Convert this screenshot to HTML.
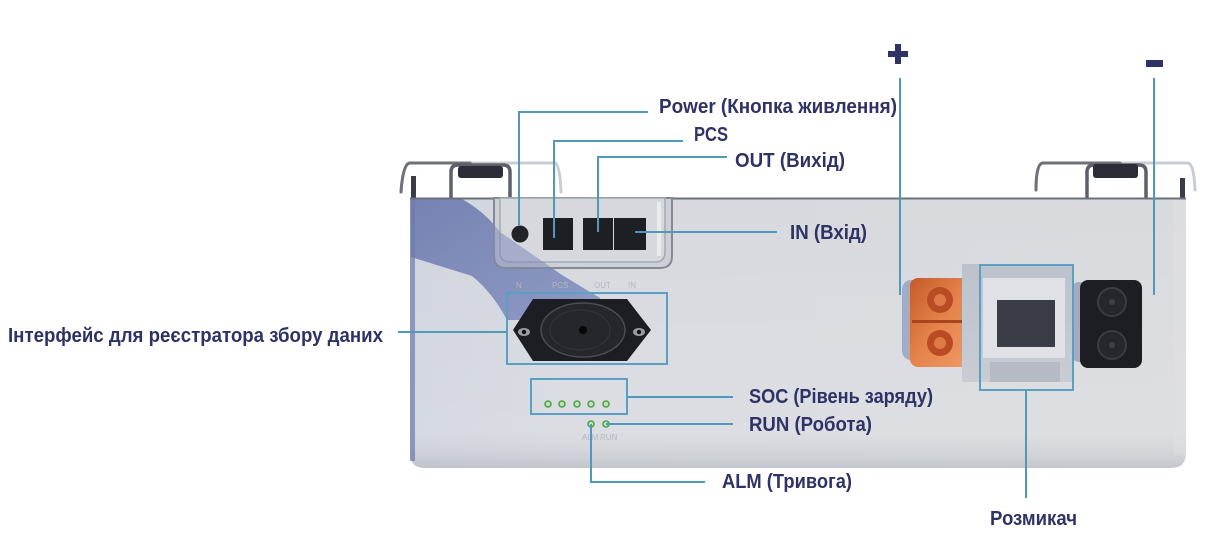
<!DOCTYPE html>
<html><head><meta charset="utf-8"><style>
html,body{margin:0;padding:0;background:#fff;}
svg{display:block;}
.t{font-family:"Liberation Sans","Noto Sans CJK SC",sans-serif;font-weight:bold;fill:#2f3264;font-size:20px;}
.ln{stroke:#4f9abb;stroke-width:2;fill:none;}
.bx{stroke:#5aa0c2;stroke-width:2;fill:none;}
.led{fill:#c4e2bb;stroke:#4ea64a;stroke-width:1.6;}
</style></head><body>
<svg width="1210" height="544" viewBox="0 0 1210 544" xmlns="http://www.w3.org/2000/svg">
<defs>
<linearGradient id="bodyG" x1="0" y1="0" x2="1" y2="0">
<stop offset="0" stop-color="#d0d4de"/>
<stop offset="0.25" stop-color="#d7d9df"/>
<stop offset="1" stop-color="#d9dade"/>
</linearGradient>
<linearGradient id="bodyV" x1="0" y1="0" x2="0" y2="1">
<stop offset="0" stop-color="#ffffff" stop-opacity="0"/>
<stop offset="0.85" stop-color="#ffffff" stop-opacity="0.12"/>
<stop offset="1" stop-color="#9da1aa" stop-opacity="0.35"/>
</linearGradient>
<linearGradient id="bandG" x1="0" y1="0" x2="1" y2="1">
<stop offset="0" stop-color="#7682b2"/>
<stop offset="1" stop-color="#8f9ac4"/>
</linearGradient>
<linearGradient id="orG" x1="0" y1="0" x2="1" y2="1">
<stop offset="0" stop-color="#c45a2a"/>
<stop offset="0.5" stop-color="#e5834b"/>
<stop offset="1" stop-color="#f09a66"/>
</linearGradient>
<linearGradient id="brG" x1="0" y1="0" x2="0" y2="1">
<stop offset="0" stop-color="#bcc1cb"/>
<stop offset="1" stop-color="#c9ccd3"/>
</linearGradient>
<clipPath id="panelClip">
<path d="M494,198 L672,198 L672,256 Q672,268 660,268 L506,268 Q494,268 494,256 Z"/>
</clipPath>
</defs>

<!-- handles -->
<g fill="none" stroke-linecap="round">
<path d="M401,192 Q403,163 410,163 L555,163 Q560,165 561,192" stroke="#c9ccd2" stroke-width="3"/>
<path d="M401,192 Q403,163 410,163 L470,163" stroke="#6e717a" stroke-width="3"/>
<path d="M451,198 L451,172 Q451,165 458,165 L503,165 Q510,165 510,172 L510,198" stroke="#5d6069" stroke-width="3.5"/>
<path d="M1036,190 Q1036,163 1043,163 L1188,163 Q1194,164 1195,190" stroke="#c9ccd2" stroke-width="3"/>
<path d="M1036,190 Q1036,163 1043,163 L1120,163" stroke="#6e717a" stroke-width="3"/>
<path d="M1087,198 L1087,172 Q1087,165 1094,165 L1139,165 Q1146,165 1146,172 L1146,198" stroke="#5d6069" stroke-width="3.5"/>
</g>
<rect x="458" y="166" width="45" height="12" rx="3" fill="#2a2d36"/>
<rect x="1093" y="164" width="45" height="14" rx="3" fill="#2a2d36"/>
<rect x="411" y="176" width="5" height="22" fill="#3a3d46"/>
<rect x="1180" y="178" width="5" height="20" fill="#3a3d46"/>

<!-- body -->
<path d="M410,198 L1186,198 L1186,453 Q1186,468 1171,468 L425,468 Q410,468 410,453 Z" fill="url(#bodyG)"/>
<path d="M410,198 L1186,198 L1186,453 Q1186,468 1171,468 L425,468 Q410,468 410,453 Z" fill="url(#bodyV)"/>
<rect x="1174" y="200" width="12" height="255" fill="#e0e1e5" opacity="0.4"/>
<!-- shadow band -->
<path id="band" d="M411,199 L462,199 Q485,212 500,232 L562,275 L600,298 L600,320 L507,320 Q492,292 472,276 L411,257 Z" fill="url(#bandG)"/>
<rect x="410" y="199" width="5" height="262" fill="#6f7aa8" opacity="0.7"/>
<line x1="410" y1="198.5" x2="1186" y2="198.5" stroke="#6d7079" stroke-width="2"/>

<!-- control panel -->
<path d="M494,198 L672,198 L672,256 Q672,268 660,268 L506,268 Q494,268 494,256 Z" fill="#cdd0d6" stroke="#868993" stroke-width="2"/>
<path d="M500,198 L665,198 L665,252 Q665,262 655,262 L510,262 Q500,262 500,252 Z" fill="#d6d8dd" stroke="#a4a7b0" stroke-width="1.5"/>
<g clip-path="url(#panelClip)">
<path d="M411,199 L462,199 Q485,212 500,232 L562,275 L600,298 L600,320 L507,320 Q492,292 472,276 L411,257 Z" fill="#7f8bba" opacity="0.55"/>
</g>
<rect x="657" y="202" width="4" height="54" fill="#eef0f3" opacity="0.8"/>
<circle cx="520" cy="234" r="8.5" fill="#222328"/>
<rect x="543" y="218" width="30" height="32" fill="#1e1f24"/>
<rect x="583" y="218" width="30" height="32" fill="#1e1f24"/>
<rect x="614" y="218" width="32" height="32" fill="#1e1f24"/>
<g font-family="Liberation Sans,sans-serif" font-size="8" fill="#b4b8c2">
<text x="516" y="288">N</text><text x="552" y="288">PCS</text><text x="594" y="288">OUT</text><text x="628" y="288">IN</text>
<text x="582" y="440">ALM</text><text x="600" y="440">RUN</text>
</g>

<!-- data socket -->
<polygon points="513,330 533,299 627,299 651,330 627,361 533,361" fill="#1d1e23"/>
<ellipse cx="583" cy="330" rx="42" ry="27" fill="#26272d" stroke="#4a4c54" stroke-width="1.5"/>
<ellipse cx="580" cy="330" rx="30" ry="20" fill="none" stroke="#34363d" stroke-width="1"/>
<circle cx="583" cy="330" r="4" fill="#08080a"/>
<ellipse cx="524" cy="332" rx="6" ry="4" fill="#9a9ca3"/><circle cx="524" cy="332" r="2.2" fill="#111"/>
<ellipse cx="639" cy="332" rx="6" ry="4" fill="#9a9ca3"/><circle cx="639" cy="332" r="2.2" fill="#111"/>
<rect x="507" y="293" width="160" height="71" class="bx"/>

<!-- LEDs -->
<rect x="531" y="379" width="96" height="35" class="bx"/>
<circle class="led" cx="548" cy="404" r="3"/>
<circle class="led" cx="562" cy="404" r="3"/>
<circle class="led" cx="577" cy="404" r="3"/>
<circle class="led" cx="591" cy="404" r="3"/>
<circle class="led" cx="606" cy="404" r="3"/>
<circle class="led" cx="591" cy="424" r="3"/>
<circle class="led" cx="606" cy="424" r="3"/>

<!-- power connectors -->
<rect x="902" y="280" width="20" height="80" rx="9" fill="#7d8cb6" opacity="0.6"/>
<rect x="910" y="278" width="62" height="89" rx="8" fill="url(#orG)"/>
<circle cx="940" cy="300" r="13" fill="#b94c24"/><circle cx="940" cy="300" r="6" fill="#e07a45"/>
<circle cx="940" cy="343" r="13" fill="#b94c24"/><circle cx="940" cy="343" r="6" fill="#e07a45"/>
<rect x="912" y="320" width="58" height="3" fill="#a8441e"/>
<rect x="962" y="264" width="110" height="118" fill="url(#brG)"/>
<rect x="983" y="278" width="82" height="80" fill="#dfe1e6"/>
<rect x="997" y="300" width="58" height="47" fill="#3a3d45"/>
<rect x="990" y="362" width="70" height="20" fill="#b5bac4"/>
<rect x="1072" y="282" width="16" height="80" rx="7" fill="#6d7aa0" opacity="0.5"/>
<rect x="1080" y="280" width="62" height="88" rx="8" fill="#1d1e23"/>
<circle cx="1112" cy="302" r="14" fill="#26272d" stroke="#3a3c43" stroke-width="2"/><circle cx="1112" cy="302" r="3" fill="#3e4048"/>
<circle cx="1112" cy="345" r="14" fill="#26272d" stroke="#3a3c43" stroke-width="2"/><circle cx="1112" cy="345" r="3" fill="#3e4048"/>
<rect x="980" y="265" width="93" height="125" class="bx"/>

<!-- connector lines -->
<path class="ln" d="M519,226 L519,112 L648,112"/>
<path class="ln" d="M554,238 L554,141 L683,141"/>
<path class="ln" d="M598,232 L598,157 L727,157"/>
<path class="ln" d="M635,232 L777,232"/>
<path class="ln" d="M900,78 L900,295"/>
<path class="ln" d="M1154,78 L1154,295"/>
<path class="ln" d="M398,332 L507,332"/>
<path class="ln" d="M627,397 L733,397"/>
<path class="ln" d="M606,424 L733,424"/>
<path class="ln" d="M591,424 L591,482 L705,482"/>
<path class="ln" d="M1026,390 L1026,498"/>

<!-- plus / minus -->
<rect x="888" y="51" width="20" height="6" fill="#2f3264"/>
<rect x="895" y="44" width="6" height="20" fill="#2f3264"/>
<rect x="1146" y="60" width="17" height="7" fill="#2f3264"/>

<!-- labels -->
<text class="t" x="659" y="113" textLength="238" lengthAdjust="spacingAndGlyphs">Power (Кнопка живлення)</text>
<text class="t" x="694" y="141" textLength="34" lengthAdjust="spacingAndGlyphs">PCS</text>
<text class="t" x="735" y="167" textLength="110" lengthAdjust="spacingAndGlyphs">OUT (Вихід)</text>
<text class="t" x="790" y="239" textLength="77" lengthAdjust="spacingAndGlyphs">IN (Вхід)</text>
<text class="t" x="8" y="342" textLength="375" lengthAdjust="spacingAndGlyphs">Інтерфейс для реєстратора збору даних</text>
<text class="t" x="749" y="403" textLength="184" lengthAdjust="spacingAndGlyphs">SOC (Рівень заряду)</text>
<text class="t" x="749" y="431" textLength="123" lengthAdjust="spacingAndGlyphs">RUN (Робота)</text>
<text class="t" x="722" y="488" textLength="130" lengthAdjust="spacingAndGlyphs">ALM (Тривога)</text>
<text class="t" x="990" y="525" textLength="87" lengthAdjust="spacingAndGlyphs">Розмикач</text>
</svg>
</body></html>
